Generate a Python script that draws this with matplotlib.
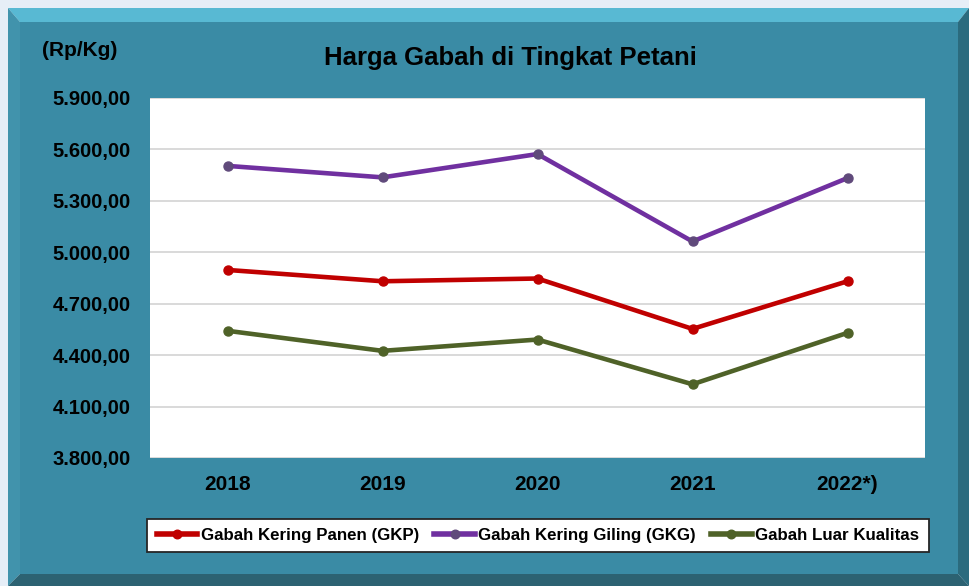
import numpy as np
import matplotlib.pyplot as plt
from matplotlib.patches import Polygon
from matplotlib.ticker import FuncFormatter

# --- Data ---
years = ["2018", "2019", "2020", "2021", "2022*)"]
gkp = [4897, 4831, 4847, 4553, 4831]
gkg = [5504, 5437, 5573, 5063, 5433]
luar = [4542, 4425, 4491, 4230, 4530]
series_names = ["Gabah Kering Panen (GKP)", "Gabah Kering Giling (GKG)", "Gabah Luar Kualitas"]
y_ticks = [3800, 4100, 4400, 4700, 5000, 5300, 5600, 5900]

W, H = 969, 586
plt.rcParams['font.family'] = ['Liberation Sans', 'DejaVu Sans']
fig = plt.figure(figsize=(W / 100, H / 100), dpi=100, facecolor="#E6EEF7")


def fx(px):
    return px / W


def fy(py):
    return 1 - py / H


def poly(pts, color):
    fig.patches.append(Polygon([(fx(a), fy(b)) for a, b in pts], closed=True,
                               transform=fig.transFigure, facecolor=color,
                               edgecolor="none", zorder=-5))


# --- Bevelled teal frame ---
x0, y0, x1, y1 = 8, 8, 969, 586
teal = "#3A8BA5"
poly([(x0, y0), (x1, y0), (x1 - 11, y0 + 14), (x0 + 12, y0 + 14)], "#58B9D3")   # top
poly([(x0, y0), (x0 + 12, y0 + 14), (x0 + 12, y1 - 12), (x0, y1)], "#4193AC")   # left
poly([(x1, y0), (x1, y1), (x1 - 11, y1 - 12), (x1 - 11, y0 + 14)], "#2B6B7E")   # right
poly([(x0, y1), (x0 + 12, y1 - 12), (x1 - 11, y1 - 12), (x1, y1)], "#2C6272")   # bottom
poly([(x0 + 12, y0 + 14), (x1 - 11, y0 + 14), (x1 - 11, y1 - 12), (x0 + 12, y1 - 12)], teal)

# --- Plot area ---
ax = fig.add_axes([fx(150), fy(458), fx(925) - fx(150), fy(98) - fy(458)])
ax.set_zorder(2)
ax.set_facecolor("white")
x = np.arange(len(years))

ax.plot(x, gkp, color="#C00000", lw=3.3, marker="o", ms=6.5,
        mfc="#C00000", mec="#C00000", label=series_names[0], zorder=3)
ax.plot(x, gkg, color="#7030A0", lw=3.3, marker="o", ms=6.5,
        mfc="#604A7B", mec="#604A7B", label=series_names[1], zorder=3)
ax.plot(x, luar, color="#4F6228", lw=3.3, marker="o", ms=6.5,
        mfc="#4F6228", mec="#4F6228", label=series_names[2], zorder=3)

ax.set_xlim(-0.5, len(years) - 0.5)
ax.set_ylim(3800, 5900)
ax.set_yticks(y_ticks)
ax.yaxis.set_major_formatter(FuncFormatter(
    lambda v, p: f"{v:,.2f}".replace(",", "X").replace(".", ",").replace("X", ".")))
ax.set_xticks(x)
ax.set_xticklabels(years)
ax.grid(axis="y", color="#D9D9D9", lw=1.4, zorder=1)
ax.set_axisbelow(True)
for s in ax.spines.values():
    s.set_visible(False)
ax.tick_params(axis="y", length=0, pad=14, labelsize=14.5)
ax.tick_params(axis="x", length=0, pad=12, labelsize=15)
for lab in ax.get_xticklabels() + ax.get_yticklabels():
    lab.set_fontweight("bold")

# --- Texts ---
fig.text(fx(510), fy(58), "Harga Gabah di Tingkat Petani", ha="center", va="center",
         fontsize=18.5, fontweight="bold", color="black")
fig.text(fx(80), fy(50), "(Rp/Kg)", ha="center", va="center",
         fontsize=15, fontweight="bold", color="black")

# --- Legend ---
leg = fig.legend(loc="center", bbox_to_anchor=(fx(538), fy(535.5)), ncol=3,
                 frameon=True, fancybox=False, handlelength=2.4,
                 handletextpad=0.2, columnspacing=0.9, borderpad=0.55,
                 prop={"weight": "bold", "size": 12.2}, markerscale=0.95)
for ln in leg.get_lines():
    ln.set_linewidth(4)
leg.get_frame().set_edgecolor("#262626")
leg.get_frame().set_linewidth(1.3)
leg.get_frame().set_facecolor("white")
leg.get_frame().set_alpha(1)

fig.savefig("out.png", dpi=100, facecolor=fig.get_facecolor())
